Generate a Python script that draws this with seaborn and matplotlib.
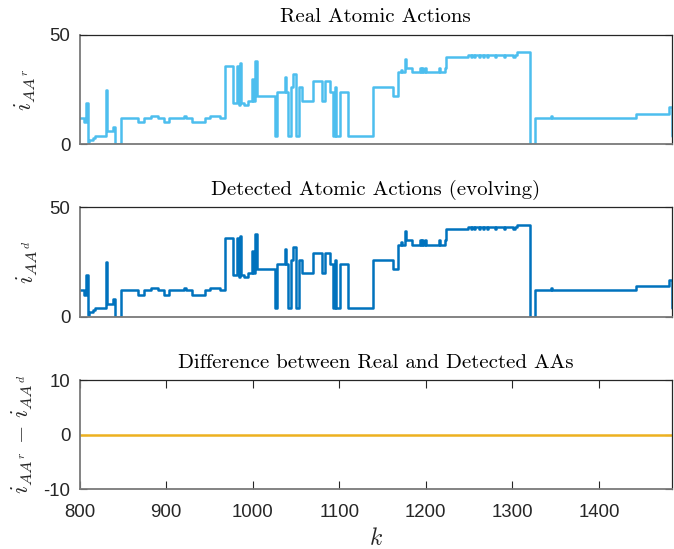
import numpy as np
import pandas as pd
import matplotlib
matplotlib.use("Agg")
import matplotlib.pyplot as plt
import seaborn as sns

# ---- data (step breakpoints: sample index k, atomic-action index) ----
k_steps = [800, 805, 807, 810, 811, 816, 818, 830, 832, 839, 841, 848,
           868, 875, 882, 891, 897, 903, 921, 923, 930, 945, 951, 962,
           968, 977, 982, 984, 985, 987, 990, 995, 999, 1000, 1003, 1005,
           1026, 1028, 1037, 1038, 1041, 1044, 1047, 1050, 1053, 1057,
           1070, 1080, 1084, 1089, 1093, 1095, 1096, 1101, 1110,
           1139, 1162, 1168, 1171, 1172, 1176, 1177, 1184, 1193, 1194,
           1196, 1197, 1199, 1200, 1215, 1216, 1222, 1223,
           1249, 1252, 1253, 1256, 1257, 1261, 1262, 1266, 1267, 1271,
           1272, 1280, 1281, 1290, 1291, 1301, 1303, 1305, 1320, 1326,
           1345, 1346, 1443, 1481, 1484]
real_aa = [12, 10, 19, 1, 2, 3, 4, 25, 6, 8, 0, 12,
           10, 12, 13, 12, 10, 12, 13, 12, 10, 12, 13, 12,
           36, 19, 36, 18, 37, 19, 18, 20, 30, 20, 38, 22,
           4, 24, 31, 24, 4, 26, 32, 4, 26, 20,
           29, 20, 29, 24, 4, 26, 4, 24, 4,
           26, 22, 33, 34, 33, 39, 35, 33, 35, 33,
           35, 33, 35, 33, 35, 33, 35, 40,
           41, 40, 41, 40, 41, 40, 41, 40, 41, 40,
           41, 40, 41, 40, 41, 40, 41, 42, 0, 12,
           13, 12, 14, 17, 4]
detected_aa = list(real_aa)

titles = ["Real Atomic Actions",
          "Detected Atomic Actions (evolving)",
          "Difference between Real and Detected AAs"]
ylabels = [r"$i_{AA^r}$", r"$i_{AA^d}$", r"$i_{AA^r}\,-\,i_{AA^d}$"]
x_ticks = [800, 900, 1000, 1100, 1200, 1300, 1400]

k_arr = np.array(k_steps)
diff = np.array(real_aa) - np.array(detected_aa)

df = pd.DataFrame({"k": k_arr, "real": real_aa, "detected": detected_aa, "diff": diff})

sns.set_style("white")
plt.rcParams["font.family"] = ["Liberation Sans", "DejaVu Sans"]
plt.rcParams["mathtext.fontset"] = "cm"
plt.rcParams["axes.unicode_minus"] = False

fig = plt.figure(figsize=(6.74, 5.49), dpi=100)
left, width, height = 0.118, 0.8786, 0.1991
bottoms = [0.7372, 0.4231, 0.1087]
axes = [fig.add_axes([left, b, width, height]) for b in bottoms]

colors = ["#4DBEEE", "#0072BD", "#EDB120"]
cols = ["real", "detected", "diff"]

for i, ax in enumerate(axes):
    sns.lineplot(data=df, x="k", y=cols[i], ax=ax, color=colors[i], lw=1.8,
                 drawstyle="steps-post", estimator=None, sort=False)
    ax.set_xlim(800, 1484)
    ax.set_title(titles[i], fontfamily="cmr10", fontsize=15, pad=9, color="black")
    ax.set_ylabel(ylabels[i], fontsize=17, color="#262626")
    ax.set_xlabel("")
    for s in ["top", "right"]:
        ax.spines[s].set_color("#262626")
        ax.spines[s].set_linewidth(0.9)
    for s in ["left", "bottom"]:
        ax.spines[s].set_color("#7a7a7a")
        ax.spines[s].set_linewidth(1.3)
    ax.tick_params(axis="y", direction="in", length=5, pad=6.5, labelsize=13.4,
                   colors="#262626", left=True, right=True)
    if i < 2:
        ax.set_ylim(0, 50)
        ax.set_yticks([0, 50])
        ax.set_xticks([])
    else:
        ax.set_ylim(-10, 10)
        ax.set_yticks([-10, 0, 10])
        ax.set_xticks(x_ticks)
        ax.tick_params(axis="x", direction="in", length=6, pad=10.5, labelsize=13.4,
                       colors="#262626", top=True, bottom=True)
        ax.set_xlabel(r"$k$", fontsize=17, labelpad=5)

axes[0].yaxis.set_label_coords(-0.070, 0.5)
axes[1].yaxis.set_label_coords(-0.067, 0.5)
axes[2].yaxis.set_label_coords(-0.075, 0.5)

fig.savefig("out.png", dpi=100)
